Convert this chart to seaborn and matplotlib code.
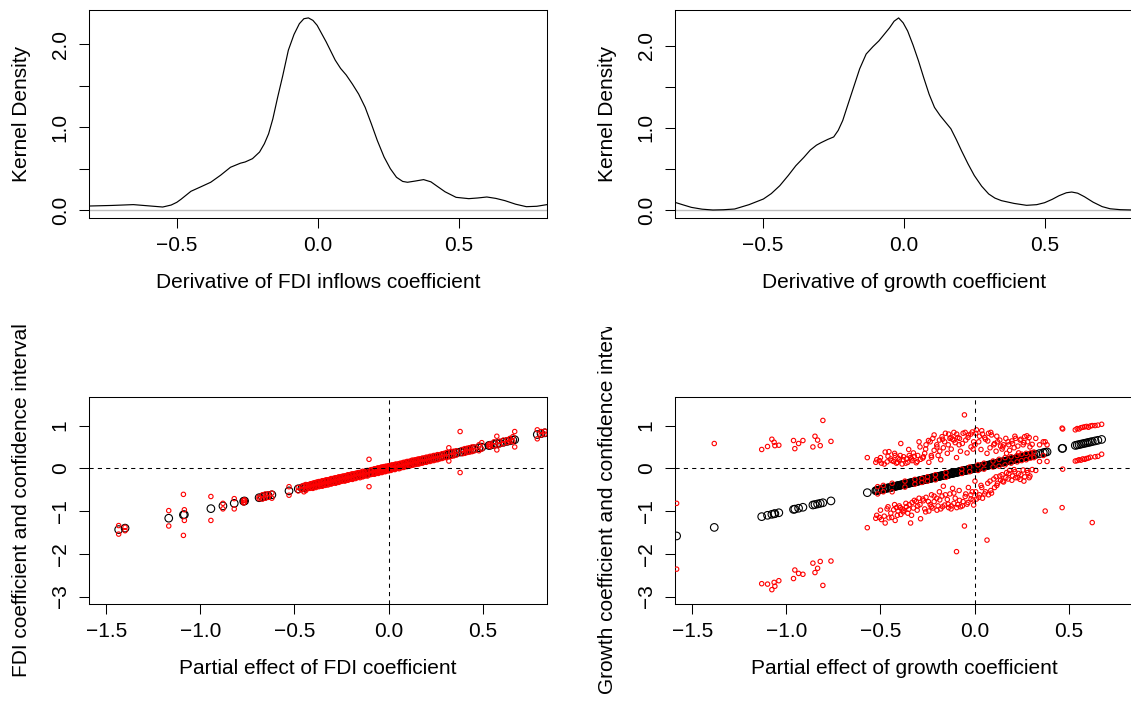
import matplotlib
matplotlib.use("Agg")
import matplotlib.pyplot as plt
import seaborn as sns
from matplotlib.transforms import Bbox

# ---- kernel density of the derivatives ----
fdi_dens_x = [-0.811, -0.73, -0.654, -0.60, -0.55, -0.52, -0.50, -0.485, -0.45, -0.415,
              -0.38, -0.345, -0.31, -0.275, -0.258, -0.232, -0.207, -0.19, -0.175, -0.16,
              -0.143, -0.125, -0.105, -0.085, -0.066, -0.05, -0.034, -0.018, -0.003, 0.013,
              0.029, 0.045, 0.061, 0.08, 0.10, 0.122, 0.144, 0.167, 0.189, 0.21,
              0.234, 0.256, 0.278, 0.30, 0.317, 0.345, 0.374, 0.40, 0.419, 0.45,
              0.489, 0.534, 0.565, 0.598, 0.63, 0.662, 0.70, 0.738, 0.775, 0.811]
fdi_dens_y = [0.048, 0.055, 0.065, 0.05, 0.036, 0.06, 0.093, 0.13, 0.226, 0.28,
              0.335, 0.42, 0.516, 0.565, 0.58, 0.62, 0.70, 0.80, 0.92, 1.10,
              1.36, 1.62, 1.93, 2.12, 2.25, 2.31, 2.32, 2.29, 2.23, 2.13,
              2.03, 1.92, 1.81, 1.71, 1.63, 1.52, 1.40, 1.24, 1.04, 0.84,
              0.64, 0.50, 0.395, 0.345, 0.335, 0.35, 0.367, 0.34, 0.294, 0.22,
              0.153, 0.137, 0.145, 0.157, 0.14, 0.113, 0.07, 0.04, 0.045, 0.065]

gr_dens_x = [-0.811, -0.78, -0.753, -0.715, -0.677, -0.64, -0.60, -0.549, -0.498, -0.47,
             -0.44, -0.41, -0.383, -0.355, -0.332, -0.31, -0.294, -0.27, -0.249, -0.233,
             -0.217, -0.20, -0.179, -0.157, -0.134, -0.11, -0.089, -0.07, -0.051, -0.035,
             -0.019, -0.003, 0.013, 0.032, 0.051, 0.07, 0.089, 0.108, 0.128, 0.147,
             0.166, 0.185, 0.204, 0.227, 0.249, 0.275, 0.30, 0.322, 0.345, 0.39,
             0.434, 0.47, 0.498, 0.525, 0.549, 0.575, 0.594, 0.615, 0.639, 0.67,
             0.702, 0.73, 0.766, 0.81]
gr_dens_y = [0.093, 0.06, 0.032, 0.01, 0.0, 0.003, 0.012, 0.065, 0.134, 0.20,
             0.296, 0.42, 0.54, 0.64, 0.73, 0.79, 0.82, 0.86, 0.89, 0.97,
             1.09, 1.27, 1.49, 1.72, 1.90, 1.99, 2.06, 2.14, 2.22, 2.30,
             2.34, 2.28, 2.18, 2.01, 1.82, 1.61, 1.41, 1.25, 1.15, 1.07,
             0.99, 0.86, 0.72, 0.56, 0.42, 0.29, 0.195, 0.145, 0.114, 0.08,
             0.057, 0.065, 0.089, 0.13, 0.174, 0.21, 0.219, 0.205, 0.162, 0.095,
             0.041, 0.015, 0.004, 0.0]

# ---- partial effects with lower / upper confidence bounds ----
fdi_pe = [-1.434, -1.40, -1.168, -1.09, -1.085, -0.944, -0.88, -0.82, -0.77, -0.765,
          -0.688, -0.67, -0.655, -0.64, -0.62, -0.529, -0.48, -0.46, -0.45, -0.44,
          -0.435, -0.425,
          -0.418, -0.41, -0.402, -0.395, -0.386, -0.378, -0.37, -0.361, -0.352, -0.345,
          -0.337, -0.33, -0.322, -0.313, -0.305, -0.297, -0.29, -0.281, -0.272, -0.265,
          -0.256, -0.248, -0.24, -0.232, -0.225, -0.216, -0.208, -0.2, -0.192, -0.184,
          -0.176, -0.168, -0.16, -0.152, -0.145, -0.137, -0.128, -0.12, -0.112, -0.104,
          -0.097, -0.09, -0.082, -0.075, -0.068, -0.061, -0.055, -0.048, -0.042, -0.036,
          -0.03, -0.024, -0.018, -0.012, -0.006, 0.0, 0.006, 0.012, 0.019, 0.026,
          0.033, 0.04, 0.048, 0.056, 0.064, 0.072, 0.08, 0.089, 0.098, 0.107,
          0.116, 0.125, 0.134, 0.143, 0.152, 0.161, 0.17, 0.18, 0.19, 0.2,
          0.21, 0.22, 0.23, 0.24, 0.25, 0.26, 0.272, 0.284, 0.296, 0.308,
          0.32, 0.333, 0.346, 0.36, 0.38, 0.392, 0.405, 0.418, 0.43, 0.443,
          0.455,
          0.48, 0.495, 0.533, 0.54, 0.56, 0.575, 0.59, 0.61, 0.63, 0.645,
          0.66, 0.67, 0.79, 0.81, 0.83]
fdi_lo = [-1.54, -1.46, -1.35, -1.57, -1.22, -1.22, -0.95, -0.95, -0.81, -0.79,
          -0.71, -0.72, -0.70, -0.68, -0.70, -0.63, -0.53, -0.50, -0.55, -0.52,
          -0.48, -0.47,
          -0.47, -0.45, -0.47, -0.44, -0.45, -0.42, -0.43, -0.41, -0.42, -0.39,
          -0.40, -0.38, -0.39, -0.36, -0.37, -0.35, -0.34, -0.35, -0.32, -0.33,
          -0.31, -0.30, -0.29, -0.30, -0.27, -0.28, -0.26, -0.25, -0.26, -0.23,
          -0.24, -0.22, -0.21, -0.22, -0.19, -0.20, -0.18, -0.17, -0.18, -0.43,
          -0.15, -0.14, -0.13, -0.14, -0.12, -0.11, -0.12, -0.10, -0.09, -0.10,
          -0.08, -0.07, -0.08, -0.06, -0.05, -0.06, -0.04, -0.05, -0.03, -0.02,
          -0.03, -0.01, 0.0, -0.01, 0.01, 0.02, 0.02, 0.04, 0.04, 0.06,
          0.06, 0.07, 0.08, 0.09, 0.10, 0.10, 0.12, 0.12, 0.14, 0.14,
          0.16, 0.16, 0.18, 0.18, 0.20, 0.20, 0.22, 0.23, 0.25, 0.25,
          0.17, 0.28, 0.29, 0.31, -0.10, 0.34, 0.35, 0.37, 0.38, 0.39,
          0.41,
          0.41, 0.45, 0.52, 0.51, 0.53, 0.43, 0.55, 0.57, 0.60, 0.62,
          0.63, 0.50, 0.69, 0.78, 0.80]
fdi_hi = [-1.34, -1.38, -0.99, -0.61, -0.97, -0.66, -0.82, -0.71, -0.75, -0.74,
          -0.67, -0.62, -0.60, -0.60, -0.58, -0.43, -0.45, -0.42, -0.40, -0.38,
          -0.40, -0.39,
          -0.37, -0.36, -0.35, -0.34, -0.33, -0.32, -0.31, -0.31, -0.29, -0.30,
          -0.28, -0.27, -0.27, -0.26, -0.24, -0.25, -0.23, -0.22, -0.22, -0.20,
          -0.20, -0.19, -0.18, -0.18, -0.17, -0.15, -0.16, -0.14, -0.13, -0.13,
          -0.12, -0.11, -0.10, -0.10, -0.09, -0.07, -0.08, -0.06, -0.05, 0.21,
          -0.04, -0.03, -0.03, -0.01, -0.02, 0.0, 0.01, 0.0, 0.02, 0.03,
          0.02, 0.04, 0.04, 0.05, 0.04, 0.06, 0.06, 0.07, 0.08, 0.07,
          0.09, 0.10, 0.09, 0.11, 0.12, 0.12, 0.14, 0.14, 0.16, 0.16,
          0.17, 0.19, 0.19, 0.20, 0.21, 0.22, 0.22, 0.24, 0.24, 0.26,
          0.26, 0.28, 0.28, 0.30, 0.30, 0.32, 0.32, 0.34, 0.35, 0.37,
          0.48, 0.39, 0.40, 0.41, 0.86, 0.44, 0.46, 0.47, 0.48, 0.50,
          0.50,
          0.55, 0.60, 0.56, 0.57, 0.62, 0.75, 0.63, 0.66, 0.67, 0.70,
          0.74, 0.86, 0.90, 0.86, 0.87]

gr_pe = [-1.583, -1.383, -1.131, -1.10, -1.077, -1.065, -1.061, -1.04, -0.962, -0.955,
         -0.935, -0.912, -0.859, -0.848, -0.834, -0.82, -0.806, -0.763, -0.57,
         -0.525, -0.515, -0.505, -0.495, -0.485, -0.475, -0.465, -0.455,
         -0.445, -0.438, -0.43, -0.422, -0.415, -0.407, -0.40, -0.392, -0.385, -0.377,
         -0.37, -0.362, -0.355, -0.347, -0.34, -0.332, -0.325, -0.317, -0.31, -0.302,
         -0.295, -0.287, -0.28, -0.272,
         -0.265, -0.258, -0.25, -0.243, -0.236, -0.229, -0.222, -0.215, -0.208, -0.201,
         -0.194, -0.187, -0.18, -0.173, -0.166, -0.159, -0.152, -0.145, -0.138, -0.131,
         -0.124, -0.117, -0.11, -0.103, -0.096,
         -0.089, -0.082, -0.075, -0.068, -0.061, -0.054, -0.047, -0.04, -0.033, -0.026,
         -0.019, -0.012, -0.005,
         0.002, 0.01, 0.018, 0.026, 0.034, 0.042, 0.05, 0.058, 0.066, 0.074,
         0.082, 0.09, 0.098, 0.106, 0.114, 0.122, 0.13, 0.138, 0.146, 0.154,
         0.162, 0.17,
         0.178, 0.186, 0.194, 0.202, 0.21, 0.218, 0.226, 0.234, 0.242, 0.25,
         0.258, 0.266, 0.274, 0.282, 0.29, 0.298, 0.306, 0.315,
         0.325, 0.345, 0.365, 0.375, 0.385, 0.465, 0.468,
         0.535, 0.545, 0.555, 0.565, 0.575, 0.585, 0.595, 0.605, 0.615, 0.625,
         0.64, 0.655, 0.675,
         -0.52, -0.50, -0.48, -0.46, -0.44, -0.425, -0.41, -0.395, -0.38, -0.365,
         -0.35, -0.335, -0.32, -0.305, -0.29, -0.275, -0.26, -0.245, -0.23, -0.215,
         -0.20, -0.185, -0.17, -0.155, -0.14, -0.125, -0.11, -0.095, -0.08, -0.065,
         -0.05, -0.035, -0.02, -0.008, 0.006, 0.022, 0.038, 0.054, 0.07, 0.086,
         0.102, 0.118, 0.134, 0.15, 0.166, 0.182, 0.198, 0.214, 0.23, 0.246,
         0.262, 0.278, 0.294]
gr_lo = [-2.36, -3.40, -2.70, -2.71, -2.84, -2.67, -2.76, -2.63, -2.58, -2.38,
         -2.46, -2.48, -2.22, -2.44, -2.34, -2.18, -2.74, -2.17, -1.39,
         -1.17, -0.60, -1.15, -1.20, -0.55, -1.28, -0.95, -1.16,
         -1.05, -0.55, -0.97, -1.22, -0.92, -1.00, -0.88, -1.08, -0.95, -0.98,
         -0.44, -0.90, -1.05, -0.85, -1.28, -0.80, -0.93, -0.37, -0.78, -0.88,
         -0.70, -1.18, -0.33, -0.76,
         -0.95, -0.68, -0.30, -1.00, -0.85, -0.62, -0.93, -0.78, -0.27, -0.70,
         -0.88, -0.55, -0.95, -0.65, -0.42, -0.86, -0.21, -0.73, -0.92, -0.60,
         -0.88, -0.47, -0.82, -0.70, -1.95,
         -0.85, -0.52, -0.90, -0.12, -0.78, -1.35, -0.60, -0.84, -0.45, -0.08,
         -0.72, -0.55, -0.86,
         -0.30, -0.72, -0.05, -0.62, -0.40, -0.70, -0.02, -0.55, -1.68, -0.62,
         -0.30, -0.58, 0.03, -0.45, -0.20, -0.35, 0.05, -0.28, -0.15, -0.32,
         0.08, -0.10,
         -0.25, -0.05, 0.12, -0.18, -0.03, -0.22, 0.15, -0.12, -0.26, 0.18,
         -0.04, -0.20, 0.20, -0.10, -0.22, 0.24, -0.03, 0.25,
         -0.05, 0.16, 0.30, -1.00, 0.16, -0.92, -0.02,
         0.17, 0.18, 0.20, 0.19, 0.22, 0.21, 0.23, 0.24, 0.26, -1.27,
         0.27, 0.28, 0.33,
         -1.10, -0.98, -1.12, -0.90, -1.15, -0.85, -1.10, -0.92, -1.02, -0.82,
         -0.96, -1.10, -0.75, -0.98, -0.85, -0.72, -1.02, -0.78, -0.90, -0.65,
         -0.98, -0.74, -0.90, -0.62, -0.84, -0.95, -0.58, -0.92, -0.75, -0.88,
         -0.66, -0.80, -0.62, -0.74, -0.55, -0.68, -0.45, -0.60, -0.35, -0.52,
         -0.25, -0.40, -0.18, -0.30, -0.22, -0.12, -0.28, -0.08, -0.22, -0.15,
         -0.30, -0.05, -0.18]
gr_hi = [-0.82, 0.58, 0.44, 0.51, 0.68, 0.61, 0.53, 0.54, 0.65, 0.46,
         0.58, 0.65, 0.50, 0.75, 0.66, 0.53, 1.12, 0.63, 0.25,
         0.14, -0.43, 0.18, 0.12, -0.40, 0.38, 0.15, 0.39,
         0.22, -0.35, 0.16, 0.30, 0.12, 0.24, 0.20, 0.58, 0.10, 0.27,
         -0.30, 0.22, 0.14, 0.30, 0.25, 0.18, 0.36, -0.26, 0.13, 0.30,
         0.62, 0.21, -0.24, 0.27,
         0.35, 0.55, -0.20, 0.14, 0.62, 0.26, 0.70, 0.42, -0.15, 0.55,
         0.30, 0.66, 0.20, 0.74, 0.48, 0.62, -0.10, 0.35, 0.80, 0.70,
         0.45, 0.68, 0.84, 0.60, 0.25,
         0.72, 0.55, 0.40, -0.02, 0.82, 1.25, 0.66, 0.36, 0.78, 0.03,
         0.50, 0.85, 0.62,
         0.55, 0.90, 0.08, 0.75, 0.44, 0.80, 0.12, 0.68, 0.35, 0.82,
         0.48, 0.78, 0.17, 0.58, 0.40, 0.62, 0.21, 0.52, 0.45, 0.55,
         0.25, 0.35,
         0.62, 0.42, 0.27, 0.58, 0.48, 0.70, 0.30, 0.36, 0.66, 0.33,
         0.55, 0.74, 0.35, 0.62, 0.72, 0.36, 0.56, 0.38,
         0.70, 0.55, 0.62, 0.62, 0.55, 0.94, 0.92,
         0.90, 0.93, 0.92, 0.95, 0.96, 0.97, 0.98, 0.96, 0.99, 1.00,
         1.00, 1.01, 1.03,
         0.20, 0.25, 0.10, 0.28, 0.18, 0.35, 0.14, 0.30, 0.20, 0.12,
         0.44, 0.22, 0.28, 0.16, 0.50, 0.24, 0.45, 0.65, 0.30, 0.78,
         0.50, 0.40, 0.68, 0.82, 0.55, 0.72, 0.66, 0.80, 0.70, 0.58,
         0.84, 0.72, 0.80, 0.45, 0.82, 0.62, 0.88, 0.72, 0.64, 0.84,
         0.55, 0.75, 0.66, 0.50, 0.70, 0.55, 0.64, 0.75, 0.52, 0.68,
         0.60, 0.76, 0.50]

MINUS = "\u2212"

sns.set_theme(style="white")
plt.rcParams["font.family"] = ["Liberation Sans", "DejaVu Sans"]
plt.rcParams["font.size"] = 15
plt.rcParams["axes.linewidth"] = 0.75
plt.rcParams["axes.edgecolor"] = "black"
plt.rcParams["xtick.color"] = "black"
plt.rcParams["ytick.color"] = "black"
plt.rcParams["text.color"] = "black"
plt.rcParams["axes.labelcolor"] = "black"

fig = plt.figure(figsize=(11.31, 7.04), dpi=100)
W = 457.4 / 1131
left_x = [89.3 / 1131, 675.3 / 1131]
top_ax = [fig.add_axes([lx, 1 - 217.7 / 704, W, 207.5 / 704]) for lx in left_x]
bot_ax = [fig.add_axes([lx, 1 - 604.2 / 704, W, 207.7 / 704]) for lx in left_x]


def style_axes(ax):
    for sp in ax.spines.values():
        sp.set_visible(True)
        sp.set_color("black")
        sp.set_linewidth(0.75)
    ax.tick_params(direction="out", length=7, width=0.75, pad=6,
                   bottom=True, left=True, labelsize=15)
    ax.tick_params(axis="y", pad=7)
    ax.grid(False)


# top row: density curves
top_cfg = [
    (fdi_dens_x, fdi_dens_y, 2.413, "Derivative of FDI inflows coefficient"),
    (gr_dens_x, gr_dens_y, 2.434, "Derivative of growth coefficient"),
]
for ax, (dx, dy, ytop, xlab) in zip(top_ax, top_cfg):
    ax.axhline(0, color="#BEBEBE", lw=1.0, zorder=1)
    sns.lineplot(x=dx, y=dy, ax=ax, color="black", lw=0.85, sort=False,
                 estimator=None, zorder=2)
    ax.set_xlim(-0.81, 0.81)
    ax.set_ylim(-0.093 * ytop / 2.413, ytop)
    ax.set_xticks([-0.5, 0.0, 0.5])
    ax.set_xticklabels([MINUS + "0.5", "0.0", "0.5"])
    ax.set_yticks([0.0, 0.5, 1.0, 1.5, 2.0])
    ax.set_yticklabels(["0.0", "", "1.0", "", "2.0"], rotation=90, va="center")
    ax.set_xlabel(xlab, fontsize=15)
    ax.set_ylabel("Kernel Density", fontsize=15)
    style_axes(ax)

# bottom row: coefficient vs partial effect with confidence bounds
bot_cfg = [
    (fdi_pe, fdi_lo, fdi_hi, "Partial effect of FDI coefficient",
     "FDI coefficient and confidence interval"),
    (gr_pe, gr_lo, gr_hi, "Partial effect of growth coefficient",
     "Growth coefficient and confidence interval"),
]
for ax, (pe, lo, hi, xlab, ylab) in zip(bot_ax, bot_cfg):
    sns.scatterplot(x=pe, y=pe, ax=ax, marker="o", s=30, facecolors="none",
                    edgecolor="black", linewidth=0.8, zorder=2, legend=False)
    sns.scatterplot(x=pe + pe, y=lo + hi, ax=ax, marker="o", s=10,
                    facecolors="none", edgecolor="#FF0000", linewidth=0.8,
                    zorder=3, legend=False)
    ax.axhline(0, color="black", lw=0.75, ls=(0, (4, 4)), zorder=4)
    ax.axvline(0, color="black", lw=0.75, ls=(0, (4, 4)), zorder=4)
    ax.set_xlim(-1.59, 0.84)
    ax.set_ylim(-3.18, 1.68)
    ax.set_xticks([-1.5, -1.0, -0.5, 0.0, 0.5])
    ax.set_xticklabels([MINUS + "1.5", MINUS + "1.0", MINUS + "0.5", "0.0", "0.5"])
    ax.set_yticks([-3, -2, -1, 0, 1])
    ax.set_yticklabels([MINUS + "3", MINUS + "2", MINUS + "1", "0", "1"],
                       rotation=90, va="center")
    ax.set_xlabel(xlab, fontsize=15)
    ax.set_ylabel(ylab, fontsize=15)
    style_axes(ax)

for ax in top_ax + bot_ax:
    ax.xaxis.set_label_coords(0.5, -0.31)
    ax.xaxis.label.set_va("center")
    ax.yaxis.set_label_coords(-0.148, 0.5)
    ax.yaxis.label.set_va("center")

# the growth panel's axis title is too long and gets cut off at the top
clip = Bbox.from_extents(0, 0, fig.bbox.width, fig.bbox.height - 327)
bot_ax[1].yaxis.label.set_clip_box(clip)
bot_ax[1].yaxis.label.set_clip_on(True)

fig.savefig("out.png", dpi=100)
